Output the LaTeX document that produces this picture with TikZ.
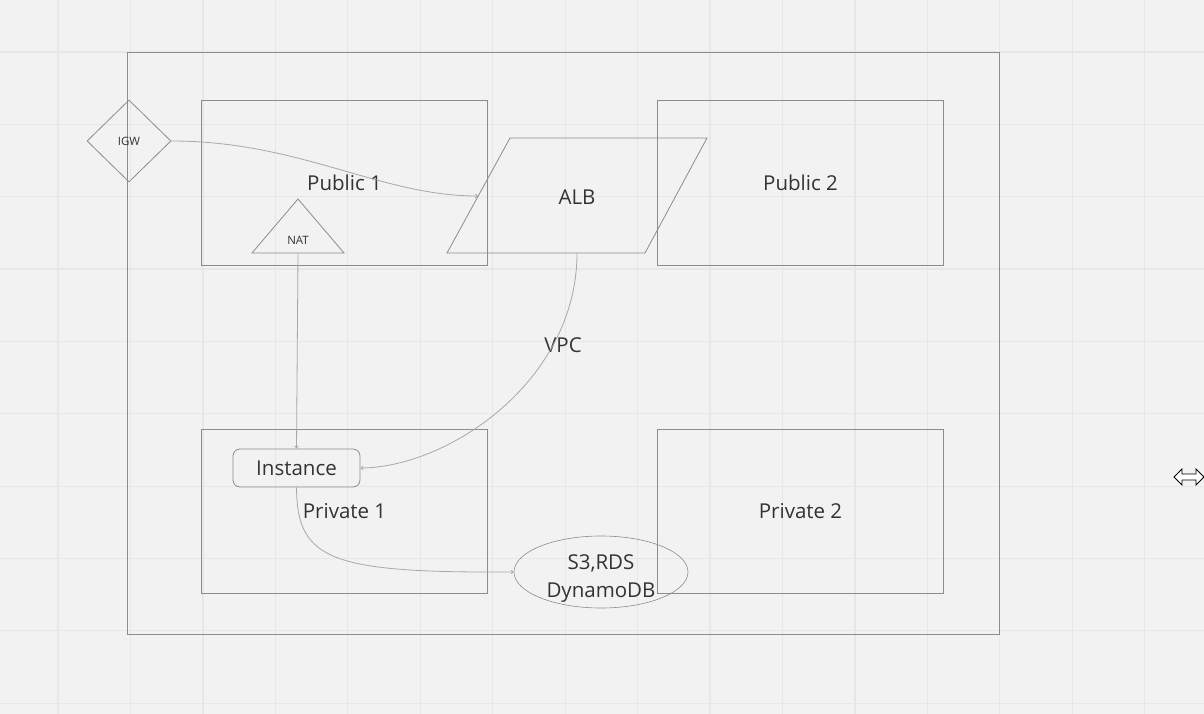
\documentclass[tikz,border=0pt]{standalone}
\usepackage{fontspec}
\setmainfont{Open Sans}
\usetikzlibrary{shapes.geometric,arrows.meta}
\definecolor{bg}{HTML}{F2F2F3}
\definecolor{gridc}{HTML}{E7E7E9}
\definecolor{linec}{HTML}{8C8C8C}
\definecolor{conc}{HTML}{A8A8A8}
\definecolor{txt}{HTML}{333333}
\tikzset{
  region/.style={draw=linec, line width=1.1pt, inner sep=0pt, anchor=north west,
     font=\fontsize{20.5}{24}\selectfont, text=txt},
  shapeline/.style={draw=linec, line width=0.8pt},
  lab/.style={font=\fontsize{20.5}{28}\selectfont, text=txt, inner sep=0pt},
  smalllab/.style={font=\fontsize{11.5}{14}\selectfont, text=txt, inner sep=0pt},
  conn/.style={draw=conc, line width=0.8pt, -{Straight Barb[length=2pt,width=3.5pt]}},
}
\begin{document}
\begin{tikzpicture}[x=1pt,y=-1pt]
\useasboundingbox (0,0) rectangle (1204,714);
\fill[bg] (0,0) rectangle (1204,714);
% grid
\foreach \k in {0,...,15} \draw[gridc, line width=1.2pt] ({58+72.45*\k},0) -- ({58+72.45*\k},714);
\foreach \k in {0,...,9} \draw[gridc, line width=1.2pt] (0,{52+72.35*\k}) -- (1204,{52+72.35*\k});

% VPC and subnets
\node[region, minimum width=872pt, minimum height=582pt] (vpc) at (127,52) {};
\node[lab] (vpclab) at (563,345) {VPC};
\node[region, minimum width=286pt, minimum height=165pt] (pub1) at (201,100) {\raisebox{-1.5pt}{Public 1}};
\node[region, minimum width=286pt, minimum height=165pt] (pub2) at (657,100) {\raisebox{-1.5pt}{Public 2}};
\node[region, minimum width=286pt, minimum height=164pt] (priv1) at (201,429) {\raisebox{-1.5pt}{Private 1}};
\node[region, minimum width=286pt, minimum height=164pt] (priv2) at (657,429) {\raisebox{-1.5pt}{Private 2}};

% IGW
\node[diamond, shapeline, inner sep=0pt, minimum width=84pt, minimum height=82pt, smalllab] (igw) at (129,141) {IGW};

% NAT triangle
\coordinate (natTop) at (298,199);
\coordinate (natL) at (252,253);
\coordinate (natR) at (344,253);
\coordinate (natB) at (298,253);
\draw[shapeline] (natTop) -- (natR) -- (natL) -- cycle;
\node[smalllab] (nat) at (298,240) {NAT};

% ALB parallelogram
\coordinate (albTL) at (510,138);
\coordinate (albTR) at (707,138);
\coordinate (albBR) at (645,253);
\coordinate (albBL) at (447,253);
\coordinate (albW) at (478,196);
\coordinate (albS) at (577,253);
\draw[shapeline] (albTL) -- (albTR) -- (albBR) -- (albBL) -- cycle;
\node[lab] (alb) at (577,197) {ALB};

% Instance
\node[shapeline, rounded corners=7pt, minimum width=127pt, minimum height=38pt, inner sep=0pt, lab] (inst) at (296.5,468) {Instance};

% Datastore ellipse
\node[ellipse, draw=linec, line width=0.6pt, minimum width=174pt, minimum height=72pt, inner sep=0pt] (db) at (601,572) {};
\node[lab, align=center] (dblab) at (601,579) {S3,RDS\\DynamoDB};

% connectors
\draw[conn] (igw.east) .. controls (300,141) and (380,196) .. (albW);
\draw[conn] (natB) -- (inst.north);
\draw[conn] (albS) .. controls (577,380) and (450,467) .. (inst.east);
\draw[conn] (inst.south) .. controls (297,560) and (330,573) .. (db.west);

% resize cursor
\draw[black, fill=white, line width=0.8pt, line join=miter]
  (1174,477) -- (1182,469) -- (1182,474) -- (1196,474) -- (1196,469) -- (1204,477)
  -- (1196,485) -- (1196,480) -- (1182,480) -- (1182,485) -- cycle;
\end{tikzpicture}
\end{document}
